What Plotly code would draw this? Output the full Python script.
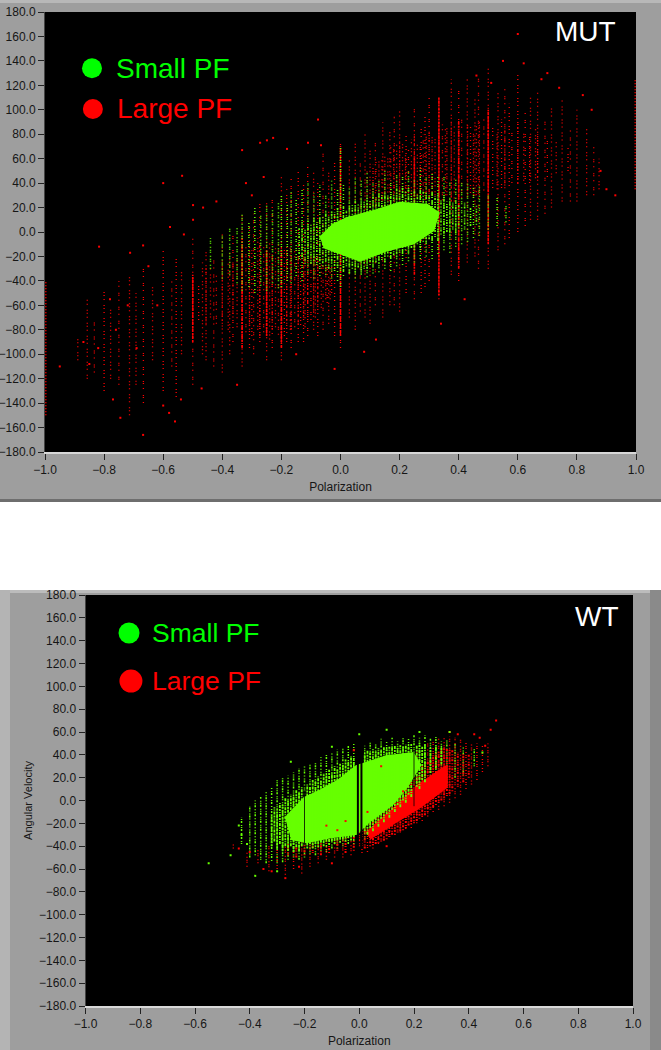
# The original holds many thousands of dots,
# so columns are recorded as (polarization, low, high) and dense cores as outlines.
import plotly.graph_objects as go

W, H = 661, 1050
GREEN = "#66ff00"; RED = "#ff0000"; LEG_GREEN = "#00ff00"

y_ticks = [-180,-160,-140,-120,-100,-80,-60,-40,-20,0,20,40,60,80,100,120,140,160,180]
x_ticks = [-1.0,-0.8,-0.6,-0.4,-0.2,0.0,0.2,0.4,0.6,0.8,1.0]
legend_names = ["Small PF", "Large PF"]

# ---- MUT ----
mut_red_x = [-0.889,-0.857,-0.833,-0.8,-0.778,-0.75,-0.714,-0.692,-0.667,-0.636,-0.6,-0.571,-0.556,-0.538,-0.5,-0.467,-0.455,-0.429,-0.4,-0.375,-0.364,-0.333,-0.308,-0.294,-0.273,-0.25,-0.231,-0.2,-0.182,-0.167,-0.143,-0.125,-0.111,-0.091,-0.077,-0.059,-0.04,-0.02,0,0.03,0.05,0.067,0.083,0.1,0.118,0.143,0.167,0.182,0.2,0.222,0.25,0.273,0.286,0.3,0.333,0.375,0.4,0.429,0.455,0.467,0.5,0.533,0.556,0.571,0.6,0.625,0.643,0.667,0.692,0.714,0.75,0.778,0.8,0.833,0.857,0.875]
mut_red_lo = [-105,-120,-115,-130,-120,-125,-150,-125,-140,-105,-130,-110,-135,-100,-125,-100,-105,-110,-115,-100,-90,-110,-95,-100,-90,-105,-95,-105,-90,-95,-90,-90,-85,-80,-85,-80,-75,-85,-95,-70,-80,-65,-70,-75,-60,-70,-60,-60,-65,-50,-55,-50,-45,-40,-55,-35,-40,-25,-20,-30,-30,-15,-10,-5,0,5,10,10,15,20,25,25,25,30,30,35]
mut_red_hi = [-85,-55,-70,-45,-60,-40,-35,-50,-30,-45,-15,-40,-20,-30,-5,-25,-15,-20,0,-15,0,15,5,15,25,25,30,45,35,45,50,40,55,50,40,65,50,60,75,60,75,60,80,70,75,90,85,95,100,80,105,85,95,110,110,125,120,125,110,130,135,115,120,105,130,100,110,115,95,105,110,85,100,85,70,60]

mut_dense_x = [-0.5,-0.455,-0.4,-0.364,-0.333,-0.308,-0.273,-0.25,-0.231,-0.2,-0.182,-0.167,-0.143,-0.125,-0.111,-0.091,-0.077,-0.05,-0.03,0.11,0.13,0.15,0.18,0.2,0.22,0.25,0.27,0.29,0.31,0.333,0.36,0.375,0.4,0.43,0.45,0.47,0.5,0.53,0.556,0.6,0.64,0.667]
mut_dense_lo = [-70,-75,-75,-70,-85,-80,-85,-80,-80,-90,-75,-80,-75,-70,-72,-65,-60,-55,-50,22,25,28,30,28,30,30,32,28,30,25,30,25,28,30,28,30,35,35,38,40,40,45]
mut_dense_hi = [-35,-30,-25,-25,-15,-15,-10,-15,-18,-12,-15,-15,-18,-20,-22,-20,-22,-25,-28,55,60,62,68,75,65,80,70,78,80,85,85,90,85,88,82,92,95,82,85,90,78,80]

mut_dense2_x = [-0.48,-0.44,-0.42,-0.38,-0.35,-0.32,-0.3,-0.28,-0.26,-0.24,-0.22,-0.21,-0.19,-0.17,-0.155,-0.135,-0.12,-0.1,-0.085,-0.065,-0.045,-0.035,0.09,0.12,0.14,0.16,0.17,0.19,0.21,0.23,0.24,0.26,0.28,0.3,0.32,0.345,0.355,0.385,0.41,0.44,0.46,0.485,0.515,0.545,0.58,0.62,0.66,0.7,0.73,0.77]
mut_dense2_lo = [-72,-70,-75,-80,-78,-82,-85,-80,-82,-88,-78,-84,-85,-80,-78,-76,-78,-72,-70,-62,-58,-55,20,22,26,25,30,28,26,32,30,28,34,28,30,26,30,25,28,32,30,34,36,36,40,42,44,45,48,50]
mut_dense2_hi = [-40,-30,-35,-25,-20,-10,-15,-5,-10,-8,-12,-10,-14,-12,-15,-18,-16,-20,-18,-22,-26,-28,52,58,60,64,70,72,72,68,76,72,80,82,78,88,84,88,92,86,90,94,88,92,84,82,85,78,75,70]

mut_solid_x = [-0.5,-0.333,-0.25,-0.2,0.0,0.25,0.333,0.4,0.5]
mut_solid_lo = [-90,-95,-85,-95,-85,-35,-52,-30,-10]
mut_solid_hi = [-35,-5,-15,-15,70,62,110,90,100]

mut_edge_x = [-0.998,0.998]
mut_edge_lo = [-150,35]
mut_edge_hi = [-40,125]

mut_green_x = [-0.44,-0.4,-0.375,-0.35,-0.333,-0.31,-0.29,-0.27,-0.25,-0.23,-0.21,-0.2,-0.18,-0.167,-0.15,-0.13,-0.11,-0.09,-0.07,-0.05,-0.03,-0.01,0.0,0.01,0.03,0.05,0.07,0.09,0.11,0.13,0.15,0.17,0.19,0.21,0.23,0.25,0.27,0.29,0.31,0.33,0.35,0.37,0.39,0.41,0.43,0.45,0.47,0.5,0.53,0.56]
mut_green_lo = [-30,-38,-35,-42,-48,-45,-50,-44,-48,-42,-46,-45,-40,-42,-36,-40,-34,-38,-36,-35,-38,-40,-45,-36,-34,-38,-35,-37,-34,-33,-30,-32,-28,-27,-24,-25,-22,-20,-22,-18,-15,-17,-12,-10,-8,-5,-3,2,5,8]
mut_green_hi = [-5,-3,3,5,15,8,20,14,22,18,25,32,24,35,28,36,40,32,38,30,42,35,70,40,38,46,42,48,40,44,50,42,48,46,50,44,52,46,50,45,46,42,44,40,42,36,38,30,28,22]

mut_green2_x = [-0.14,-0.13,-0.12,-0.11,-0.1,-0.09,-0.08,-0.07,-0.06,-0.05,-0.04,-0.03,-0.02,-0.01,0.01,0.02,0.03,0.04,0.05,0.06,0.07,0.08,0.09,0.1,0.11,0.12,0.13,0.14,0.15,0.16,0.17,0.18,0.19,0.2,0.21,0.22,0.23,0.24,0.25,0.26,0.27,0.28,0.29,0.3,0.31,0.32,0.33,0.34,0.35,0.36,0.37,0.38,0.39,0.4,0.42,0.44,0.46]
mut_green2_lo = [-22,-20,-26,-22,-26,-24,-27,-24,-28,-24,-30,-26,-32,-28,-32,-28,-34,-30,-33,-29,-34,-30,-30,-27,-29,-25,-26,-23,-25,-20,-22,-19,-20,-17,-18,-15,-17,-13,-15,-10,-13,-8,-10,-6,-9,-4,-7,-2,-5,0,-3,2,-1,3,2,5,6]
mut_green2_hi = [3,7,2,9,6,12,8,13,12,16,13,18,16,20,22,18,24,22,26,23,28,25,29,26,31,28,33,30,33,31,35,32,36,34,36,33,36,33,34,31,35,33,32,31,33,29,31,27,30,25,27,24,26,22,24,20,22]

mut_core_p = [-0.069,-0.024,0.021,0.11,0.201,0.292,0.33,0.313,0.245,0.157,0.066,-0.002,-0.058]
mut_core_v = [-5,5.7,11,16.6,23.6,22,15.5,1.6,-9,-14.7,-23,-17,-12]

mut_red_pts_x = [-0.076,-0.228,-0.249,-0.272,-0.333,-0.181,-0.11,-0.066,-0.536,-0.6,-0.817,-0.712,-0.668,-0.577,-0.53,-0.499,-0.465,-0.499,-0.745,-0.6,-0.668,-0.56,-0.77,-0.54,-0.85,-0.87,-0.76,-0.72,-0.82,-0.78,-0.65,-0.62,-0.42,0.88,0.9,0.85,0.7,0.62,0.6,0.55,-0.3,-0.26,-0.32,-0.95,-0.69,-0.58,-0.47,-0.35,0.93,0.82,0.74,0.68,0.51,0.46,-0.15,-0.02,0.08,0.12,0.34,0.42]
mut_red_pts_y = [92,77,75,73,67,68,73,71,46,40,-12,-17,-11,4,-2,22,20,10,-152,-142,-166,-155,-137,-137,-108,-90,-80,-60,-95,-55,-28,-60,25,50,35,100,130,138,162,140,30,45,40,-110,-95,-148,-128,-125,30,112,118,125,122,128,-100,-112,-98,-88,-75,-55]

# ---- WT ----
wt_red_x = [-0.46,-0.41,-0.37,-0.33,-0.3,-0.27,-0.24,-0.21,-0.18,-0.15,-0.12,-0.09,-0.06,-0.03,0.01,0.03,0.05,0.07,0.09,0.11,0.13,0.15,0.17,0.19,0.21,0.23,0.25,0.27,0.29,0.31,0.33,0.35,0.37,0.39,0.41,0.43,0.45,0.47]
wt_red_lo = [-42,-58,-55,-62,-60,-65,-60,-64,-58,-55,-52,-50,-50,-48,-46,-45,-42,-38,-35,-32,-30,-28,-25,-24,-20,-18,-14,-10,-8,-5,-2,2,5,10,14,18,25,30]
wt_red_hi = [-38,-45,-42,-40,-42,-38,-40,-34,-36,-32,-33,-30,-30,-25,-15,-10,-4,2,8,14,22,28,32,40,46,48,50,52,55,55,56,55,54,52,50,50,48,50]

wt_red2_x = [-0.26,-0.23,-0.2,-0.17,-0.14,-0.11,-0.08,-0.05,-0.02,0.0,0.02,0.04,0.05,0.06,0.07,0.08,0.09,0.1,0.11,0.12,0.13,0.14,0.15,0.16,0.17,0.18,0.19,0.2,0.21,0.22,0.23,0.24,0.25,0.26,0.27,0.28,0.29,0.3,0.31,0.32,0.33,0.34,0.36,0.38,0.4]
wt_red2_lo = [-48,-50,-48,-46,-48,-46,-44,-46,-44,-40,-42,-40,-39,-38,-37,-36,-35,-34,-32,-30,-30,-28,-27,-26,-24,-22,-21,-20,-18,-16,-14,-13,-10,-8,-6,-4,-2,0,2,4,6,8,12,16,20]
wt_red2_hi = [-38,-40,-38,-37,-36,-34,-33,-32,-30,-26,-24,-20,-18,-16,-14,-12,-10,-8,-6,-4,-1,2,5,8,11,14,17,20,23,26,29,32,35,38,40,42,44,46,46,46,45,44,42,42,40]

wt_green_x = [-0.43,-0.4,-0.38,-0.36,-0.34,-0.32,-0.3,-0.28,-0.26,-0.24,-0.22,-0.2,-0.18,-0.16,-0.14,-0.12,-0.1,-0.08,-0.06,-0.04,-0.02,0.02,0.04,0.06,0.08,0.1,0.12,0.14,0.16,0.18,0.2,0.22,0.24,0.26,0.28,0.3,0.32,0.35,0.38,0.42]
wt_green_lo = [-38,-50,-48,-52,-55,-53,-55,-54,-52,-50,-52,-50,-47,-48,-44,-45,-42,-42,-40,-38,-38,-34,-30,-28,-28,-25,-20,-16,-12,-10,-5,0,4,6,10,12,15,20,22,30]
wt_green_hi = [-15,-5,0,3,8,12,18,20,22,25,28,30,32,34,38,40,42,45,46,48,50,48,52,50,54,52,55,52,56,54,58,55,57,54,56,52,54,50,48,45]

wt_green2_x = [-0.32,-0.31,-0.3,-0.29,-0.28,-0.27,-0.26,-0.25,-0.24,-0.23,-0.22,-0.21,-0.19,-0.18,-0.17,-0.16,-0.15,-0.14,-0.13,-0.12,-0.11,-0.1,-0.09,-0.08,-0.07,-0.06,-0.05,-0.04,-0.03,-0.02,0.02,0.03,0.04,0.05,0.06,0.07,0.08,0.09,0.1,0.11,0.12,0.13,0.14,0.15,0.16,0.17,0.18,0.19,0.21,0.22,0.23,0.24,0.26,0.28,0.3]
wt_green2_lo = [-40,-36,-42,-38,-44,-40,-44,-40,-45,-41,-44,-40,-42,-38,-42,-38,-41,-37,-40,-36,-39,-36,-38,-35,-37,-34,-36,-33,-35,-32,-27,-30,-24,-27,-20,-23,-16,-19,-12,-15,-8,-10,-4,-6,0,-2,5,3,12,10,18,16,24,28,32]
wt_green2_hi = [-12,-6,-8,-2,-4,2,0,5,3,9,7,12,14,12,18,16,21,18,24,22,27,25,30,28,33,31,36,34,39,37,41,44,42,45,43,46,44,47,45,48,46,48,46,49,47,49,47,50,48,50,47,49,46,48,46]

wt_core_p = [-0.27,-0.199,-0.144,-0.071,-0.01,0.099,0.196,0.221,0.172,0.122,0.026,-0.01,-0.108,-0.193,-0.25]
wt_core_v = [-16,2,8,18,29.6,38.4,41,31,12,-2.5,-20,-28.7,-32,-36,-33]

wt_crescent_p = [0.026,0.136,0.209,0.282,0.318,0.318,0.221,0.123,0.038]
wt_crescent_v = [-28.7,-5.4,12,23.8,29.6,12,-5.4,-20,-33]

wt_gap_x = [-0.005,0.008]
wt_gap_lo = [-45,-42]
wt_gap_hi = [38,36]
wt_thin_gap_x = [-0.2,0.2]
wt_thin_gap_lo = [-39,-5]
wt_thin_gap_hi = [9,44]

wt_red_pts_x = [0.48,0.5,0.44,0.46,-0.32,-0.27,-0.22,-0.1,-0.35,-0.4,-0.44,0.42,0.36,0.33,-0.02,0.1,0.03,-0.05,0.16,-0.12,0.08,-0.08]
wt_red_pts_y = [62,70,55,48,-62,-68,-58,-55,-60,-45,-42,58,58,60,44,-40,-10,-18,8,-22,30,-26]
wt_green_pts_x = [-0.55,-0.44,-0.43,-0.47,-0.41,-0.38,-0.3,0.45,0.33,0.22,0.1,0.0,-0.1,-0.25]
wt_green_pts_y = [-55,-22,-30,-48,-38,-66,-62,42,60,60,62,58,47,34]

# ---- legend marks ----
mut_leg_p = [-0.841,-0.838]; mut_leg_v = [134,100.6]
wt_leg_p = [-0.841,-0.834]; wt_leg_v = [146.7,104.6]


def segs(xs, los, his):
    x, y = [], []
    for a, l, h in zip(xs, los, his):
        x += [a, a, None]; y += [l, h, None]
    return x, y


def stipple(fig, xs, los, his, color, patterns, ax, width=1.3):
    for k, dash in enumerate(patterns):
        x, y = segs(xs[k::len(patterns)], los[k::len(patterns)], his[k::len(patterns)])
        fig.add_trace(go.Scatter(x=x, y=y, mode="lines", xaxis=ax[0], yaxis=ax[1], hoverinfo="skip",
                                 showlegend=False, line=dict(color=color, width=width, dash=dash)))


def blob(fig, px, pv, color, ax):
    fig.add_trace(go.Scatter(x=px, y=pv, mode="lines", fill="toself", fillcolor=color, xaxis=ax[0], yaxis=ax[1],
                             line=dict(color=color, width=3), showlegend=False, hoverinfo="skip"))


def dots(fig, x, y, color, ax, size=2, symbol="square"):
    fig.add_trace(go.Scatter(x=x, y=y, mode="markers", xaxis=ax[0], yaxis=ax[1], showlegend=False, hoverinfo="skip",
                             marker=dict(color=color, size=size, symbol=symbol, line=dict(width=0))))


def gaps(fig, xs, los, his, width):
    x, y = segs(xs, los, his)
    fig.add_trace(go.Scatter(x=x, y=y, mode="lines", xaxis="x2", yaxis="y2", showlegend=False, hoverinfo="skip",
                             line=dict(color="#000000", width=width)))


SPARSE = ["1px,3px,1px,2px,1px,5px", "1px,2px,1px,5px,1px,3px", "1px,4px,1px,1px,1px,6px"]
DENSE = ["1px,1px,1px,2px,2px,1px", "2px,1px,1px,2px,1px,1px", "1px,2px,2px,1px,1px,2px"]
MID = ["1px,2px,1px,3px,1px,1px", "1px,3px,1px,1px,1px,2px"]
HEAVY = ["2px,1px,3px,1px", "3px,1px,1px,1px,2px,1px"]

fig = go.Figure()
A = ("x", "y"); B = ("x2", "y2")

stipple(fig, mut_red_x, mut_red_lo, mut_red_hi, RED, SPARSE, A)
stipple(fig, mut_dense_x, mut_dense_lo, mut_dense_hi, RED, MID, A, 1.3)
stipple(fig, mut_dense2_x, mut_dense2_lo, mut_dense2_hi, RED, SPARSE, A, 1.3)
stipple(fig, mut_solid_x, mut_solid_lo, mut_solid_hi, RED, HEAVY, A, 1.6)
stipple(fig, mut_edge_x, mut_edge_lo, mut_edge_hi, RED, ["1px,2px"], A, 2)
stipple(fig, mut_green_x, mut_green_lo, mut_green_hi, GREEN, MID, A, 1.5)
blob(fig, mut_core_p, mut_core_v, GREEN, A)
stipple(fig, mut_green2_x, mut_green2_lo, mut_green2_hi, GREEN, DENSE, A, 1.6)
dots(fig, mut_red_pts_x, mut_red_pts_y, RED, A)
dots(fig, mut_leg_p[:1], mut_leg_v[:1], LEG_GREEN, A, 20, "circle")
dots(fig, mut_leg_p[1:], mut_leg_v[1:], RED, A, 20, "circle")

stipple(fig, wt_green_x, wt_green_lo, wt_green_hi, GREEN, DENSE, B, 1.5)
stipple(fig, wt_red_x, wt_red_lo, wt_red_hi, RED, MID, B, 1.4)
blob(fig, wt_crescent_p, wt_crescent_v, RED, B)
stipple(fig, wt_red2_x, wt_red2_lo, wt_red2_hi, RED, DENSE, B, 2)
blob(fig, wt_core_p, wt_core_v, GREEN, B)
stipple(fig, wt_green2_x, wt_green2_lo, wt_green2_hi, GREEN, HEAVY, B, 1.8)
dots(fig, wt_red_pts_x, wt_red_pts_y, RED, B)
dots(fig, wt_green_pts_x, wt_green_pts_y, GREEN, B)
gaps(fig, wt_gap_x, wt_gap_lo, wt_gap_hi, 2)
gaps(fig, wt_thin_gap_x, wt_thin_gap_lo, wt_thin_gap_hi, 0.8)
dots(fig, wt_leg_p[:1], wt_leg_v[:1], LEG_GREEN, B, 21, "circle")
dots(fig, wt_leg_p[1:], wt_leg_v[1:], RED, B, 23, "circle")


def fx(px): return px / W
def fy(py): return 1 - py / H


TICKFONT = dict(family="Liberation Sans", size=12, color="#161616")
ax_common = dict(range=[-1, 1], tickvals=x_ticks, tickformat=".1f", ticks="outside", ticklen=6, tickcolor="#222222", automargin=False,
                 showgrid=False, zeroline=False, tickfont=TICKFONT, showline=True, linecolor="#d8d8d8", linewidth=2)
ay_common = dict(range=[-180, 180], tickvals=y_ticks, tickformat=".1f", ticks="outside", ticklen=6, tickcolor="#222222", automargin=False,
                 showgrid=False, zeroline=False, tickfont=TICKFONT, showline=True, linecolor="#444444", linewidth=1)
title_font = dict(family="Liberation Sans", size=12, color="#161616")

fig.update_layout(
    width=W, height=H, margin=dict(l=0, r=0, t=0, b=0), autosize=False, showlegend=False,
    paper_bgcolor="#9e9e9e", plot_bgcolor="#000000",
    xaxis=dict(domain=[fx(45), fx(636)], anchor="y", title=dict(text="Polarization", font=title_font, standoff=6), **ax_common),
    yaxis=dict(domain=[fy(452), fy(12)], anchor="x", **ay_common),
    xaxis2=dict(domain=[fx(85.5), fx(633)], anchor="y2", title=dict(text="Polarization", font=title_font, standoff=6), **ax_common),
    yaxis2=dict(domain=[fy(1006), fy(595)], anchor="x2", title=dict(text="Angular Velocity", font=dict(family="Liberation Sans", size=11, color="#161616"), standoff=4), **ay_common),
    shapes=[
        dict(type="rect", xref="paper", yref="paper", x0=0, x1=1, y0=fy(590), y1=fy(502), fillcolor="#ffffff", line_width=0, layer="below"),
        dict(type="rect", xref="paper", yref="paper", x0=0, x1=1, y0=fy(3), y1=1, fillcolor="#b8b8b8", line_width=0, layer="below"),
        dict(type="rect", xref="paper", yref="paper", x0=0, x1=1, y0=fy(502), y1=fy(499), fillcolor="#6e6e6e", line_width=0, layer="below"),
        dict(type="rect", xref="paper", yref="paper", x0=0, x1=1, y0=fy(593), y1=fy(590), fillcolor="#bcbcbc", line_width=0, layer="below"),
        dict(type="rect", xref="paper", yref="paper", x0=0, x1=fx(10), y0=0, y1=fy(590), fillcolor="#b4b4b4", line_width=0, layer="below"),
        dict(type="rect", xref="paper", yref="paper", x0=fx(650), x1=1, y0=0, y1=fy(590), fillcolor="#8a8a8a", line_width=0, layer="below"),
    ],
    annotations=[
        dict(text=legend_names[0], xref="paper", yref="paper", x=fx(114), y=fy(68), xanchor="left", yanchor="middle", showarrow=False, font=dict(family="Liberation Sans", size=28, color=LEG_GREEN)),
        dict(text=legend_names[1], xref="paper", yref="paper", x=fx(115), y=fy(109), xanchor="left", yanchor="middle", showarrow=False, font=dict(family="Liberation Sans", size=28, color=RED)),
        dict(text="MUT", xref="paper", yref="paper", x=fx(585), y=fy(32), xanchor="center", yanchor="middle", showarrow=False, font=dict(family="Liberation Sans", size=28, color="#ffffff")),
        dict(text=legend_names[0], xref="paper", yref="paper", x=fx(150), y=fy(633), xanchor="left", yanchor="middle", showarrow=False, font=dict(family="Liberation Sans", size=26.5, color=LEG_GREEN)),
        dict(text=legend_names[1], xref="paper", yref="paper", x=fx(150), y=fy(681), xanchor="left", yanchor="middle", showarrow=False, font=dict(family="Liberation Sans", size=26.5, color=RED)),
        dict(text="WT", xref="paper", yref="paper", x=fx(597), y=fy(616), xanchor="center", yanchor="middle", showarrow=False, font=dict(family="Liberation Sans", size=28, color="#ffffff")),
    ],
)

# The page's default 8px body margin would push the 661px figure out of the window.
fig.write_html("out.html", config={"displayModeBar": False}, post_script="document.body.style.margin='0';")
